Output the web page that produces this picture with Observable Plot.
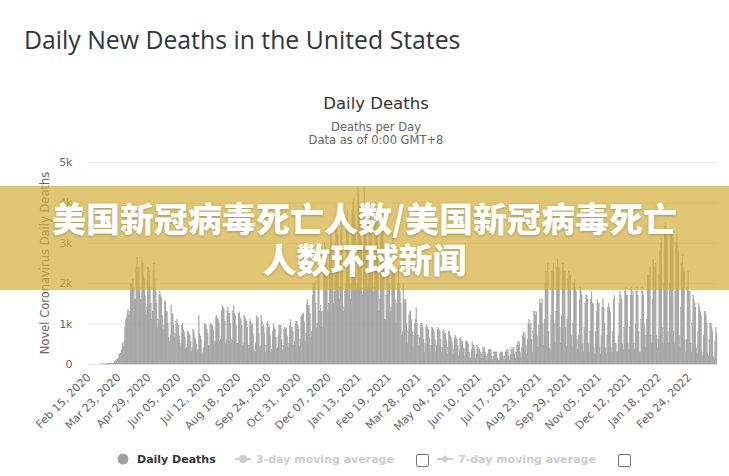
<!DOCTYPE html>
<html><head><meta charset="utf-8">
<script src="https://cdn.jsdelivr.net/npm/d3@7"></script>
<script src="https://cdn.jsdelivr.net/npm/@observablehq/plot@0.6"></script>
<style>
html,body{margin:0;padding:0;background:#fff;}
#root{position:relative;width:729px;height:476px;overflow:hidden;background:#fff;font-family:"DejaVu Sans",sans-serif;}
.abs{position:absolute;white-space:nowrap;}
#title{left:24px;top:27px;font:400 24.8px/24.8px "Open Sans",sans-serif;color:#31353d;}
.ct{left:226px;width:300px;text-align:center;}
#ctitle{top:96px;font:400 16.5px/16.5px "DejaVu Sans";color:#333;}
#sub1{top:121.5px;font:400 11.5px/11.5px "DejaVu Sans";color:#666;}
#sub2{top:134.5px;font:400 11.5px/11.5px "DejaVu Sans";color:#666;}
#ylab{left:46px;top:263px;transform:translate(-50%,-50%) rotate(-90deg);font:400 11.5px/11.5px "DejaVu Sans";color:#666;}
#chart{left:0;top:150px;}
.leg{top:454px;font:700 11px/11px "DejaVu Sans";}
.box{position:absolute;top:454px;width:11px;height:11px;border:1px solid #767676;border-radius:2px;background:#fff;}
#banner{position:absolute;left:0;top:186px;width:729px;height:104px;box-sizing:border-box;padding-top:11px;background:rgba(212,175,55,0.7);text-align:center;color:#fff;font:900 34px/41px "Noto Sans CJK SC",sans-serif;text-shadow:0 1px 3px rgba(0,0,0,0.25);}
</style></head>
<body>
<div id="root">
  <div id="title" class="abs">Daily New Deaths in the United States</div>
  <div id="ctitle" class="abs ct">Daily Deaths</div>
  <div id="sub1" class="abs ct">Deaths per Day</div>
  <div id="sub2" class="abs ct">Data as of 0:00 GMT+8</div>
  <div id="ylab" class="abs">Novel Coronavirus Daily Deaths</div>
  <div id="chart" class="abs"></div>
  <svg class="abs" style="left:0;top:440px" width="729" height="36">
    <circle cx="123" cy="19" r="5.5" fill="#a0a0a0"/>
    <line x1="235" x2="251" y1="19" y2="19" stroke="#cccccc" stroke-width="2"/>
    <circle cx="243" cy="19" r="4" fill="#cccccc"/>
    <line x1="437" x2="453" y1="19" y2="19" stroke="#cccccc" stroke-width="2"/>
    <path d="M445,15 L449,19 L445,23 L441,19 Z" fill="#cccccc"/>
  </svg>
  <div class="abs leg" style="left:137px;color:#333;">Daily Deaths</div>
  <div class="abs leg" style="left:256px;color:#cccccc;">3-day moving average</div>
  <div class="box" style="left:416px;"></div>
  <div class="abs leg" style="left:458px;color:#cccccc;">7-day moving average</div>
  <div class="box" style="left:618px;"></div>
  <div id="banner">美国新冠病毒死亡人数/美国新冠病毒死亡<br>人数环球新闻</div>
</div>
<script>
// First day of the series (category 0)
const startDate = "2020-02-15";
// Daily deaths, one value per day from Feb 15, 2020 (weeks start on Saturday)
const dailyDeaths = [
  0,0,0,0,0,0,0,
  0,0,0,0,0,0,0,
  1,0,1,4,3,2,1,
  3,3,4,5,8,10,12,
  10,12,18,23,40,55,80,
  110,120,160,225,250,270,360,
  500,440,560,900,1100,1150,1300,
  1350,1200,1300,2000,2000,1950,2100,
  1900,1600,1600,2400,2650,2300,2400,
  1900,1600,1600,2650,2500,2200,2100,
  1700,1200,1400,2400,2400,2300,1900,
  1500,1100,1300,2300,2500,2100,1800,
  1500,900,1100,1700,1800,1700,1650,
  1200,850,950,1550,1550,1300,1300,
  1000,650,550,700,1450,1200,1250,
  950,650,750,1050,1100,1000,950,
  700,400,500,950,1000,850,800,
  650,350,400,800,800,750,700,
  550,300,400,850,800,650,600,
  500,300,350,1200,750,700,600,
  250,280,400,1000,1000,950,850,
  750,450,450,950,1000,950,950,
  850,500,550,1150,1200,1150,1100,
  1000,550,600,1300,1450,1400,1350,
  1050,500,600,1300,1400,1250,1250,
  1000,550,600,1300,1450,1250,1200,
  950,500,500,1250,1300,1150,1100,
  950,450,500,1200,1150,1100,1050,
  900,400,450,1100,1050,950,1000,
  750,350,300,500,1200,1100,1150,
  750,400,450,1200,1050,900,950,
  750,300,450,1000,1050,900,950,
  700,300,350,800,1000,900,850,
  650,350,400,700,950,950,950,
  600,350,450,850,900,850,900,
  700,400,500,950,1100,900,900,
  800,450,550,1000,1050,1050,950,
  850,450,600,1150,1200,1250,1250,
  1050,550,750,1500,1600,1400,1450,
  1250,650,800,1700,2000,2000,2050,
  1500,900,1000,2200,2400,1300,1450,
  1300,900,1300,2800,3000,2900,2700,
  2400,1300,1500,2800,3200,3200,3000,
  2400,1500,1800,3000,3500,3300,3200,
  2600,1600,1900,3300,3400,3000,1300,
  1400,1800,2000,3600,3800,3300,2100,
  2000,1600,2000,3800,4000,4100,3700,
  3300,1900,2000,4400,4200,3900,3700,
  3100,1800,1700,3000,4400,3900,3800,
  3000,1900,2100,4000,3900,3900,3500,
  2700,1800,1900,3500,3700,3400,3500,
  2700,1300,1600,3200,3200,3800,3300,
  2300,1100,1100,1700,2500,2500,2600,
  2000,1300,1400,2300,3200,2400,2300,
  1600,1000,1500,2000,2400,2000,1800,
  1500,700,800,2000,1600,1500,1600,
  1000,500,800,1200,1300,1300,1100,
  800,400,700,1000,1100,1400,1000,
  700,450,650,950,1000,1000,900,
  600,300,500,900,950,900,850,
  650,300,450,900,900,850,800,
  600,300,450,850,900,850,800,
  600,300,400,800,850,750,750,
  600,250,400,800,800,700,650,
  550,250,350,650,700,650,600,
  450,200,350,600,650,550,550,
  400,200,350,550,550,550,500,
  300,150,150,350,550,450,450,
  350,150,250,450,400,400,350,
  300,150,250,400,350,400,300,
  200,100,250,350,350,350,350,
  200,100,200,300,300,300,300,
  150,100,100,250,300,300,300,
  200,100,200,300,350,300,350,
  200,100,250,350,400,350,400,
  250,150,300,450,550,450,550,
  300,150,400,700,800,650,750,
  450,250,600,1000,1100,950,1000,
  600,300,800,1300,1300,1200,1300,
  700,400,950,1600,1500,1500,1600,
  1000,450,1100,2000,2300,2000,2500,
  800,400,350,1200,2300,2300,2500,
  1000,500,1300,2400,2600,2400,2400,
  900,500,1200,2400,2500,2300,2300,
  900,450,1100,2100,2300,2200,2200,
  700,400,1000,2000,2100,1900,1800,
  600,350,700,1600,1900,1800,1700,
  500,300,900,1500,1700,1700,1600,
  500,300,800,1600,1800,1500,1500,
  400,250,800,1300,1600,1500,1500,
  400,250,700,1400,1600,1400,1000,
  400,250,700,1400,1500,1400,1300,
  400,300,800,1600,1700,500,500,
  300,300,700,1500,1800,1700,1600,
  500,350,900,1800,1900,1700,1700,
  500,350,900,1700,1900,1700,1800,
  500,350,1000,1800,1900,1700,800,
  300,300,1100,1900,1800,1700,1000,
  400,700,1100,2200,2200,2100,2400,
  700,500,1600,2600,2400,2300,2500,
  700,400,600,2200,2800,3000,3100,
  900,500,2000,3400,3500,3300,3100,
  800,500,2000,3200,3300,3300,3100,
  800,500,1800,3000,3200,2900,2800,
  700,400,1400,2500,2700,2400,2300,
  600,300,600,1900,2300,1800,1800,
  500,300,1000,1700,1600,1500,1400,
  400,250,800,1500,1400,1300,1200,
  300,200,700,1300,1300,1200,1000,
  250,200,600,1000,1000,900,800,
  200,150,550,900,750
];
// X-axis tick labels (category labels shown on the axis)
const tickLabels = [
  "Feb 15, 2020","Mar 23, 2020","Apr 29, 2020","Jun 05, 2020","Jul 12, 2020",
  "Aug 18, 2020","Sep 24, 2020","Oct 31, 2020","Dec 07, 2020","Jan 13, 2021",
  "Feb 19, 2021","Mar 28, 2021","May 04, 2021","Jun 10, 2021","Jul 17, 2021",
  "Aug 23, 2021","Sep 29, 2021","Nov 05, 2021","Dec 12, 2021","Jan 18, 2022",
  "Feb 24, 2022"
];
// Y-axis ticks
const yTicks = [0, 1000, 2000, 3000, 4000, 5000];
const yTickLabels = ["0", "1k", "2k", "3k", "4k", "5k"];

const start = d3.utcParse("%Y-%m-%d")(startDate);
const parseLabel = d3.utcParse("%b %d, %Y");
const tickIdx = tickLabels.map(s => Math.round((parseLabel(s) - start) / 864e5));
const data = dailyDeaths.map((v, i) => ({i, v}));

const chart = Plot.plot({
  width: 729, height: 290,
  marginTop: 12, marginRight: 12, marginBottom: 76, marginLeft: 88,
  style: {fontFamily: "'DejaVu Sans', sans-serif", fontSize: "11px", color: "#666", background: "transparent", overflow: "visible"},
  x: {type: "linear", domain: [-0.5, dailyDeaths.length - 0.5]},
  y: {domain: [0, 5000]},
  marks: [
    Plot.gridY(yTicks, {stroke: "#e6e6e6", strokeOpacity: 1}),
    Plot.rectY(data, {x1: d => d.i - 0.5, x2: d => d.i + 0.5, y: "v", fill: "#a0a0a0", stroke: "#a0a0a0", strokeWidth: 0.25}),
    Plot.axisY(yTicks, {tickFormat: d => yTickLabels[yTicks.indexOf(d)], tickSize: 0, tickPadding: 16, label: null, fill: "#666"}),
    Plot.axisX(tickIdx, {tickFormat: d => tickLabels[tickIdx.indexOf(d)], tickRotate: -45, tickSize: 0, tickPadding: 11, label: null, fill: "#666"})
  ]
});
document.getElementById("chart").appendChild(chart);
</script>
</body></html>
